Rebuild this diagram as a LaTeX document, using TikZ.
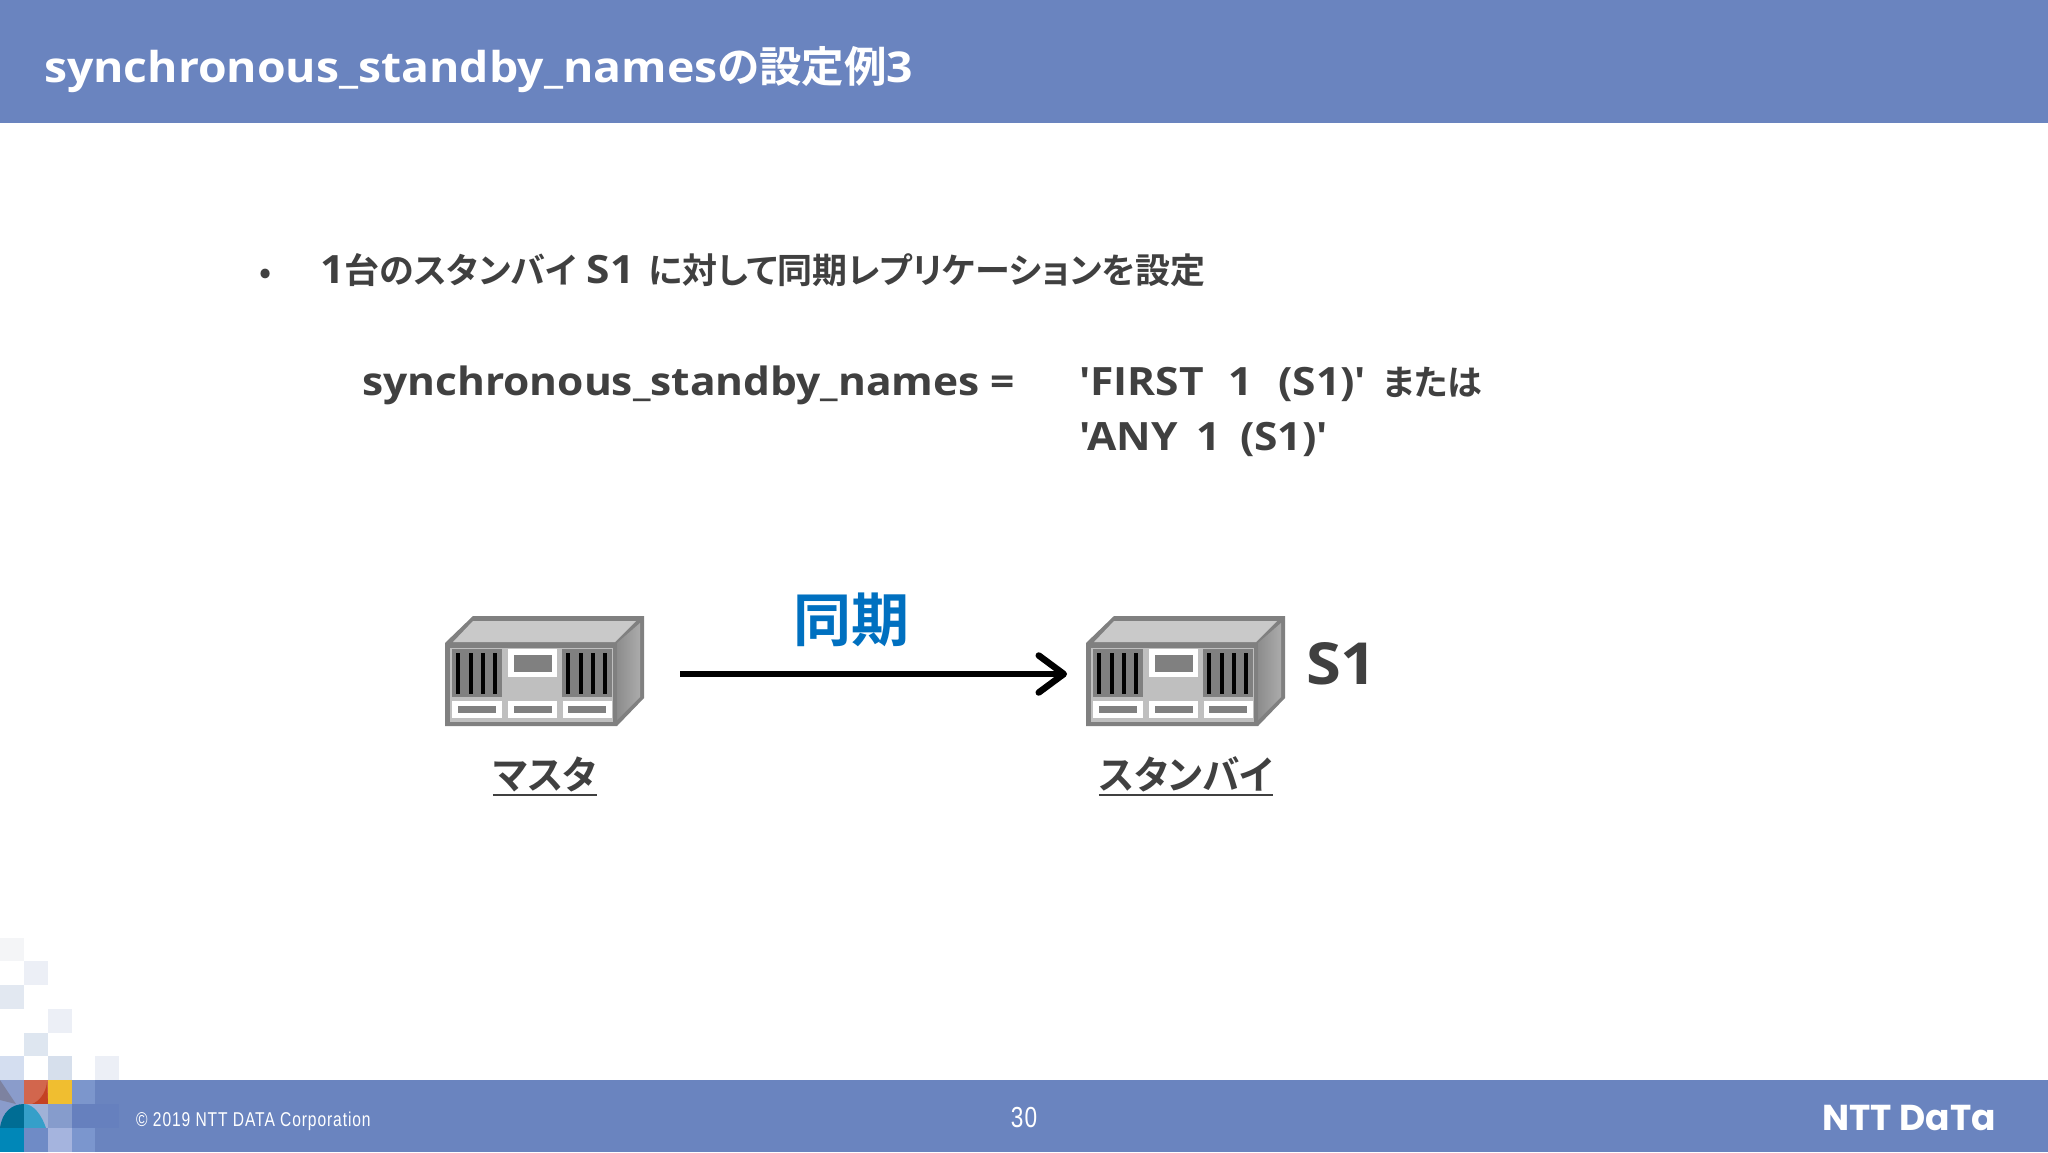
\documentclass[tikz,border=0pt]{standalone}
\usepackage{fontspec}
\usetikzlibrary{arrows.meta}
\setmainfont{Noto Sans CJK JP}[BoldFont={Noto Sans CJK JP Bold},RawFeature=+palt]
\newfontfamily\lat{Open Sans}[BoldFont={Open Sans Bold},FakeStretch=1.09]
\newfontfamily\narrowfont{Liberation Sans}[FakeStretch=0.78,LetterSpace=4.5]
\newfontfamily\logofont{Poppins}[BoldFont={Poppins Bold}]
\definecolor{band}{HTML}{6A84BF}
\definecolor{ink}{HTML}{404040}
\definecolor{syncblue}{HTML}{0070C0}
\newcommand\fsz[1]{\fontsize{#1pt}{#1pt}\selectfont}
\newcommand\msq[3]{\definecolor{tmpc}{HTML}{#1}\fill[tmpc] (#2) rectangle (#3);}
\newcommand\mpath[2]{\definecolor{tmpc}{HTML}{#1}\fill[tmpc] #2;}
\newcommand\la[1]{{\lat\bfseries #1}}
\tikzset{
  lbl/.style={inner sep=0pt,outer sep=0pt,font=\bfseries,text=ink},
  srv/.style={minimum width=200pt,minimum height=116pt,inner sep=0pt,outer sep=0pt},
  syncarrow/.style={line width=6.5pt,-{Straight Barb[length=25pt,width=37pt,line width=6.5pt,round]},black},
}
\newcommand\serverbox[1]{%
\begin{scope}[shift={(#1)}]
  \fill[black!50] (1,27)--(29,0)--(200,0)--(200,82)--(173,110)--(1,110)--cycle;
  \fill[black!21] (9,26)--(29,5)--(192,5)--(171,26)--cycle;
  \shade[left color=black!45,right color=black!33] (173,27)--(196,7)--(196,81)--(173,104)--cycle;
  \fill[black!25] (6,32) rectangle (169,106);
  \fill[black!50] (8,33) rectangle (58,81);
  \fill[black!50] (118,33) rectangle (168,81);
  \foreach \bx in {14.3,26.7,39.3,51.3,124.3,136.7,149,161.3}
    \fill[black] (\bx-2,37) rectangle (\bx+2,78);
  \fill[white] (64,33) rectangle (113,61);
  \fill[black!50] (70,39) rectangle (108,56);
  \foreach \ax/\bx/\cx/\dx in {8/58/14/52,64/113/70/108,119/168/124/162}{
    \fill[white] (\ax,85) rectangle (\bx,102);
    \fill[black!50] (\cx,90) rectangle (\dx,97);
  }
\end{scope}}
\begin{document}
\begin{tikzpicture}[x=1pt,y=-1pt]
\useasboundingbox (0,0) rectangle (2048,1152);
\fill[white] (0,0) rectangle (2048,1152);
% bands
\fill[band] (0,0) rectangle (2048,123);
\fill[band] (0,1080) rectangle (2048,1152);
% mosaic
\msq{F4F5F7}{0,938}{24,961}
\msq{ECEFF6}{24,961}{48,985}
\msq{E2E8F1}{0,985}{24,1009}
\msq{ECEFF6}{48,1009}{72,1033}
\msq{DEE6F0}{24,1033}{48,1056}
\msq{D4DEF0}{0,1056}{24,1080}
\msq{D6DFEC}{48,1056}{72,1080}
\msq{ECEFF6}{95,1056}{119,1080}
\msq{8A9CCB}{0,1080}{24,1104}
\mpath{7D82A0}{(0,1080) -- (0,1100) -- (16,1104) -- cycle}
\msq{D2664D}{24,1080}{48,1104}
\mpath{C44223}{(47,1082) .. controls (46,1094) and (38,1102) .. (32,1104) -- (48,1104) -- cycle}
\msq{F0BE30}{48,1080}{72,1104}
\msq{7C96CC}{72,1080}{95,1104}
\msq{8A9CCB}{0,1104}{24,1128}
\mpath{006D94}{(0,1128) .. controls (2,1112) and (12,1104) .. (24,1104) -- (24,1128) -- cycle}
\msq{A0B2D7}{24,1104}{48,1128}
\mpath{359FC9}{(24,1104) .. controls (34,1104) and (42,1116) .. (46,1128) -- (24,1128) -- cycle}
\msq{869CCC}{48,1104}{72,1128}
\msq{6680BE}{72,1104}{119,1128}
\msq{0087B8}{0,1128}{24,1152}
\msq{6F8BC6}{24,1128}{48,1152}
\msq{A5B4DE}{48,1128}{72,1152}
\msq{7B96CE}{72,1128}{95,1152}
% title
\node[lbl,text=white,anchor=base west,font=\bfseries\fsz{42.5}] (title) at (44,82) {\la{synchronous\_standby\_names}の設定例\la{3}};
% body
\node[lbl,anchor=base,font=\bfseries\fsz{32}] (bullet) at (266,283) {•};
\node[lbl,anchor=base west,font=\bfseries\fsz{35}] (line1) at (320,283) {\la{\fsz{39}1}台のスタンバイ\hspace{10pt}\la{\fsz{39}S1}\hspace{14pt}に対して同期レプリケーションを設定};
\node[lbl,anchor=base west,font=\bfseries\fsz{39}] (line2) at (362,395) {\la{synchronous\_standby\_names =}};
\node[lbl,anchor=base west,font=\bfseries\fsz{39}] (line3) at (1079,395) {\la{'FIRST\hspace{14pt} 1\hspace{14pt} (S1)'}\hspace{17pt}{\fsz{35}または}};
\node[lbl,anchor=base west,font=\bfseries\fsz{39}] (line4) at (1079,450) {\la{'ANY\hspace{8pt} 1\hspace{8pt} (S1)'}};
% servers
\node[srv] (master) at (544,674) {};
\node[srv] (standby) at (1185,674) {};
\serverbox{444,616}
\serverbox{1085,616}
\draw[syncarrow,shorten <=36pt,shorten >=18pt] (master.east) -- (standby.west);
\node[lbl,text=syncblue,font=\bfseries\fsz{58}] (sync) at (851,620) {同期};
\node[lbl,anchor=base west,font=\bfseries\fsz{58}] (s1) at (1306,684) {\la{S1}};
\node[lbl,xscale=.96,font=\bfseries\fsz{39}] (mlabel) at (545,774) {マスタ};
\node[lbl,xscale=.96,font=\bfseries\fsz{39}] (slabel) at (1186,774) {スタンバイ};
\draw[ink,line width=2.2pt] (mlabel.west |- 0,795) -- (mlabel.east |- 0,795);
\draw[ink,line width=2.2pt] (slabel.west |- 0,795) -- (slabel.east |- 0,795);
% footer text
\node[inner sep=0pt,anchor=base west,text=white,font=\narrowfont\fsz{20}] (copy) at (136,1126) {© 2019 NTT DATA Corporation};
\node[inner sep=0pt,text=white,font=\narrowfont\fsz{29}] (page) at (1024,1117) {30};
\node[inner sep=0pt,anchor=base east,text=white,font=\logofont\bfseries\fsz{36}] (logo) at (1996,1130) {NTT DaTa};
\end{tikzpicture}
\end{document}
